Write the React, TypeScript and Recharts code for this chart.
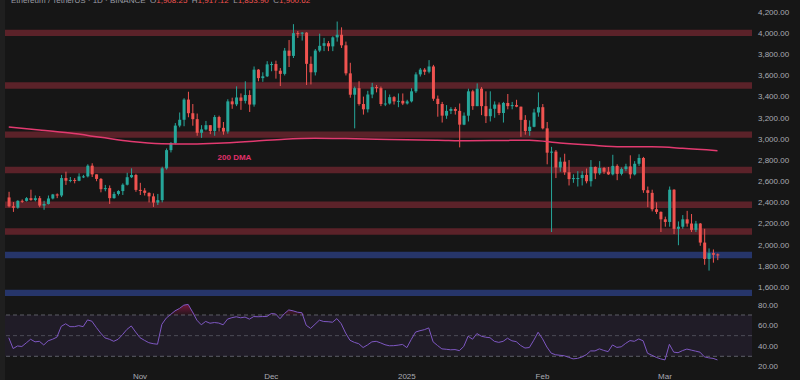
import {
  ComposedChart,
  Bar,
  Line,
  Area,
  XAxis,
  YAxis,
  ReferenceArea,
  ReferenceLine,
  ReferenceDot,
} from "recharts";

// days are counted from Nov 1 2024, first candle is Oct 2
const FIRST_DAY = -30;

const opens = [
  2447, 2363, 2350, 2415, 2414, 2440, 2422, 2440, 2370, 2385, 2437, 2475, 2465, 2630, 2605,
  2612, 2604, 2645, 2646, 2747, 2665, 2622, 2525, 2535, 2440, 2480, 2507, 2567, 2638, 2659,
  2518, 2512, 2490, 2457, 2398, 2421, 2722, 2894, 2962, 3126, 3181, 3372, 3243, 3187, 3058,
  3090, 3130, 3075, 3207, 3105, 3070, 3355, 3327, 3392, 3360, 3415, 3325, 3655, 3575, 3592,
  3705, 3708, 3645, 3615, 3835, 3785, 4000, 3995, 4005, 3710, 3630, 3835, 3880, 3905, 3875,
  3960, 3985, 3885, 3620, 3418, 3480, 3330, 3280, 3420, 3490, 3480, 3330, 3335, 3395, 3355, 3360,
  3335, 3355, 3450, 3610, 3655, 3635, 3685, 3380, 3330, 3220, 3265, 3283, 3265, 3135, 3220,
  3450, 3310, 3475, 3310, 3215, 3285, 3325, 3245, 3340, 3310, 3320, 3305, 3180, 3075, 3115, 3250,
  3300, 3100, 2870, 2880, 2730, 2785, 2685, 2620, 2630, 2630, 2660, 2600, 2735, 2675,
  2725, 2690, 2665, 2745, 2670, 2715, 2740, 2665, 2765, 2820, 2515, 2490, 2335, 2310,
  2240, 2215, 2520, 2150, 2170, 2240, 2200, 2140, 2200, 2020, 1865, 1920, 1908,
];

const highs = [
  2500, 2403, 2420, 2428, 2450, 2520, 2465, 2460, 2415, 2465, 2480, 2485, 2660, 2690, 2640,
  2630, 2675, 2660, 2760, 2770, 2665, 2630, 2565, 2560, 2500, 2515, 2580, 2680, 2722, 2670,
  2585, 2535, 2495, 2485, 2480, 2737, 2910, 2970, 3150, 3250, 3385, 3446, 3330, 3240, 3130,
  3170, 3130, 3225, 3220, 3160, 3375, 3390, 3497, 3430, 3545, 3460, 3685, 3660, 3630, 3735,
  3730, 3740, 3670, 3860, 3935, 4085, 4020, 4010, 4010, 3780, 3850, 3995, 3955, 3925, 3970,
  4110, 4055, 3920, 3720, 3495, 3545, 3400, 3455, 3530, 3510, 3495, 3460, 3420, 3405, 3430, 3430,
  3370, 3480, 3630, 3670, 3670, 3745, 3700, 3410, 3350, 3320, 3300, 3300, 3335, 3250, 3475,
  3465, 3525, 3490, 3450, 3450, 3355, 3345, 3350, 3425, 3350, 3370, 3305, 3225, 3175, 3285, 3440,
  3330, 3160, 2925, 2895, 2825, 2860, 2800, 2665, 2695, 2695, 2720, 2800, 2740, 2790,
  2735, 2735, 2850, 2760, 2730, 2765, 2845, 2790, 2855, 2830, 2550, 2520, 2400, 2315,
  2265, 2550, 2525, 2220, 2280, 2320, 2290, 2225, 2205, 2150, 1965, 1955, 1917,
];

const lows = [
  2353, 2310, 2340, 2395, 2408, 2415, 2410, 2355, 2330, 2380, 2428, 2440, 2450, 2565, 2590,
  2580, 2600, 2630, 2636, 2640, 2600, 2495, 2505, 2385, 2435, 2465, 2470, 2560, 2630, 2500,
  2470, 2465, 2400, 2357, 2375, 2400, 2710, 2872, 2950, 3110, 3120, 3205, 3125, 3030, 3010,
  3080, 3045, 3030, 3070, 3040, 3050, 3285, 3310, 3275, 3335, 3255, 3305, 3545, 3540, 3585,
  3640, 3570, 3500, 3600, 3680, 3765, 3955, 3930, 3510, 3515, 3600, 3820, 3830, 3830, 3830,
  3920, 3860, 3600, 3390, 3100, 3315, 3230, 3250, 3385, 3440, 3310, 3310, 3325, 3325, 3300, 3320,
  3325, 3345, 3435, 3590, 3605, 3620, 3360, 3210, 3155, 3190, 3235, 3230, 2920, 3130, 3165,
  3275, 3310, 3225, 3150, 3165, 3200, 3225, 3155, 3280, 3280, 3300, 3020, 3040, 3030, 3110, 3210,
  3090, 2760, 2120, 2630, 2690, 2660, 2560, 2585, 2550, 2560, 2580, 2550, 2620, 2660,
  2670, 2660, 2655, 2610, 2655, 2695, 2625, 2655, 2745, 2490, 2355, 2315, 2290, 2120,
  2170, 2170, 2100, 1995, 2150, 2170, 2120, 2120, 1990, 1810, 1755, 1830, 1854,
];

const closes = [
  2363, 2350, 2415, 2414, 2440, 2422, 2440, 2370, 2385, 2437, 2475, 2465, 2630, 2605, 2612,
  2604, 2645, 2646, 2747, 2665, 2622, 2525, 2535, 2440, 2480, 2507, 2567, 2638, 2659, 2518,
  2512, 2490, 2457, 2398, 2421, 2722, 2894, 2962, 3126, 3181, 3372, 3243, 3187, 3058, 3090,
  3130, 3075, 3207, 3105, 3070, 3355, 3327, 3392, 3360, 3415, 3325, 3655, 3575, 3592, 3705,
  3708, 3645, 3615, 3835, 3785, 4000, 3995, 4005, 3710, 3630, 3835, 3880, 3905, 3875, 3960,
  3985, 3885, 3620, 3418, 3480, 3330, 3280, 3420, 3490, 3480, 3330, 3335, 3395, 3355, 3360, 3335,
  3355, 3450, 3610, 3655, 3635, 3685, 3380, 3330, 3220, 3265, 3283, 3265, 3135, 3220, 3450,
  3310, 3475, 3310, 3215, 3285, 3325, 3245, 3340, 3310, 3320, 3305, 3180, 3075, 3115, 3250, 3300,
  3100, 2870, 2880, 2730, 2785, 2685, 2620, 2630, 2630, 2660, 2600, 2735, 2675, 2725,
  2690, 2665, 2745, 2670, 2715, 2740, 2665, 2765, 2820, 2515, 2490, 2335, 2310, 2240,
  2215, 2520, 2150, 2170, 2240, 2200, 2140, 2200, 2020, 1865, 1920, 1905, 1900,
];

const rsiValues = [
  48, 37.5, 40, 39.5, 43, 46.5, 44, 44.5, 41, 45, 46.5, 48.5, 59, 61.5, 58.7,
  58.7, 59.7, 58.7, 65.2, 64, 58, 52.5, 47.8, 46.5, 44.5, 46.5, 51, 56, 59.4, 53.5,
  48, 45.5, 43.2, 42.2, 41.7, 61, 67, 70.5, 74, 76.3, 79.5, 80.3, 73, 65, 60.5,
  63.8, 62, 62.7, 62.2, 60.5, 66, 67.4, 68.3, 67.3, 68, 66, 68.5, 68.3, 68.5, 68.5,
  71.4, 71, 66.4, 71.3, 74.9, 74, 72.7, 72.2, 60, 57, 61, 65, 63.7, 63.5, 63,
  66.5, 61.5, 52.5, 45.5, 43.5, 42.2, 38.5, 41, 44, 44.5, 43, 41.2, 40.2, 40.3, 40.8, 41.5,
  38.4, 46.3, 53.5, 54.8, 55.8, 57.5, 44, 40.5, 37.2, 36.8, 36.3, 36.5, 35.5, 39.5, 49.5,
  46.5, 52, 49.5, 48.5, 48, 44.5, 43.5, 44.5, 47.5, 45, 44.2, 40.5, 38, 38.5, 45.5, 53.3,
  47, 39, 33, 31.5, 31, 30.5, 29, 27.5, 28, 29.3, 31.5, 35.2, 35.2, 37.2,
  35.7, 34.5, 41, 38.6, 39.2, 42.5, 45.2, 44.5, 46.8, 45, 33, 31, 29, 27.5,
  26.5, 41.6, 34, 33.5, 35.5, 37, 36, 35, 34, 29.5, 28.5, 28, 26.5,
];

// 200 day moving average, read about once a week
const dmaDays = [-30, -23, -16, -9, -2, 5, 12, 19, 26, 33, 40, 47, 54, 61, 68, 75, 82, 89, 96, 103, 110, 117, 124, 132];
const dmaValues = [3112, 3085, 3055, 3015, 2975, 2955, 2952, 2962, 2978, 2998, 3006, 3003, 2998, 2992, 2988, 2983, 2985, 2988, 2962, 2942, 2926, 2925, 2912, 2889];

const redZones = [4002, 3505, 3040, 2706, 2378, 2125];
const blueZones = [1903, 1545];

const priceTicks = [1600, 1800, 2000, 2200, 2400, 2600, 2800, 3000, 3200, 3400, 3600, 3800, 4000, 4200];
const rsiTicks = [20, 40, 60, 80];
const monthTicks = [0, 30, 61, 92, 120];
const monthLabels = ["Nov", "Dec", "2025", "Feb", "Mar"];

const UP = "#26a69a";
const DOWN = "#ef5350";
const BG = "#161616";
const TEXT = "#a9abb3";
const FONT = "'Liberation Sans', Arial, sans-serif";

const X_DOMAIN = [-30.86, 139.89];

const rows = closes.map((close, i) => {
  const t = FIRST_DAY + i;
  const k = dmaDays.indexOf(t);
  return {
    t,
    open: opens[i],
    high: highs[i],
    low: lows[i],
    close,
    rsi: rsiValues[i],
    dma: k >= 0 ? dmaValues[k] : null,
  };
});

function Candle(props: any) {
  const { x, y, width, height, payload } = props;
  if (!payload || x == null) return null;
  const { open, close, high, low } = payload;
  const top = Math.min(y, y + height);
  const bottom = Math.max(y, y + height);
  const span = high - low || 1;
  const toY = (v: number) => top + ((high - v) / span) * (bottom - top);
  const color = close >= open ? UP : DOWN;
  const bodyTop = toY(Math.max(open, close));
  const bodyH = Math.max(1, toY(Math.min(open, close)) - bodyTop);
  const cx = x + width / 2;
  return (
    <g>
      <line x1={cx} x2={cx} y1={top} y2={bottom} stroke={color} strokeWidth={1} />
      <rect x={x} y={bodyTop} width={width} height={bodyH} fill={color} />
    </g>
  );
}

const fmtPrice = (v: number) =>
  v.toLocaleString("en-US", { minimumFractionDigits: 2, maximumFractionDigits: 2 });

export default function App() {
  return (
    <div
      style={{
        position: "absolute",
        left: 0,
        top: 0,
        width: 800,
        height: 380,
        background: BG,
        overflow: "hidden",
        fontFamily: FONT,
      }}
    >
      <div style={{ position: "absolute", left: 0, top: 0, width: 5, height: 380, background: "#1f1f1f" }} />

      {/* price pane */}
      <div style={{ position: "absolute", left: 0, top: 0 }}>
        <ComposedChart width={800} height={298} data={rows} margin={{ top: 0, right: 0, bottom: 0, left: 5 }}>
          <XAxis type="number" dataKey="t" domain={X_DOMAIN} allowDataOverflow hide />
          <YAxis
            orientation="right"
            width={48}
            domain={[1496, 4313.5]}
            allowDataOverflow
            ticks={priceTicks}
            interval={0}
            axisLine={false}
            tickLine={false}
            tickSize={4}
            tick={{ fill: TEXT, fontSize: 8, fontFamily: FONT }}
            tickFormatter={fmtPrice}
          />

          {redZones.map((p) => (
            <ReferenceArea key={p} y1={p - 30} y2={p + 30} fill="#b03040" fillOpacity={0.45} strokeWidth={0} />
          ))}
          {blueZones.map((p) => (
            <ReferenceArea key={p} y1={p - 30} y2={p + 30} fill="#3a5ad0" fillOpacity={0.45} strokeWidth={0} />
          ))}

          <Line
            dataKey="dma"
            type="monotone"
            stroke="#e23a70"
            strokeWidth={1.5}
            dot={false}
            connectNulls
            isAnimationActive={false}
          />

          <Bar
            dataKey={(r: any) => [r.low, r.high]}
            barSize={3}
            shape={Candle}
            isAnimationActive={false}
          />

          <ReferenceDot
            x={21.6}
            y={2829}
            r={0}
            fill="none"
            stroke="none"
            label={{ value: "200 DMA", position: "center", fill: "#e0306a", fontSize: 8, fontWeight: 700, fontFamily: FONT }}
          />
        </ComposedChart>
      </div>

      {/* RSI pane + time axis */}
      <div style={{ position: "absolute", left: 0, top: 298 }}>
        <ComposedChart width={800} height={82} data={rows} margin={{ top: 0, right: 0, bottom: 0, left: 5 }}>
          <defs>
            <linearGradient id="obFill" x1="0" y1="0" x2="0" y2="1">
              <stop offset="0%" stopColor="#c2185b" stopOpacity={0.9} />
              <stop offset="100%" stopColor="#c2185b" stopOpacity={0.15} />
            </linearGradient>
          </defs>
          <XAxis
            type="number"
            dataKey="t"
            domain={X_DOMAIN}
            allowDataOverflow
            ticks={monthTicks}
            interval={0}
            height={12}
            axisLine={false}
            tickLine={false}
            tickSize={0}
            tickMargin={5}
            tick={{ fill: TEXT, fontSize: 8, fontFamily: FONT }}
            tickFormatter={(v: number) => monthLabels[monthTicks.indexOf(v)] ?? ""}
          />
          <YAxis
            orientation="right"
            width={48}
            domain={[18.67, 86.46]}
            allowDataOverflow
            ticks={rsiTicks}
            interval={0}
            axisLine={false}
            tickLine={false}
            tickSize={4}
            tick={{ fill: TEXT, fontSize: 8, fontFamily: FONT }}
            tickFormatter={(v: number) => v.toFixed(2)}
          />

          <ReferenceArea y1={30} y2={70} fill="#7e57c2" fillOpacity={0.1} strokeWidth={0} />
          <ReferenceLine y={70} stroke="#787b86" strokeDasharray="4 3" strokeOpacity={0.7} />
          <ReferenceLine y={50} stroke="#787b86" strokeDasharray="4 3" strokeOpacity={0.5} />
          <ReferenceLine y={30} stroke="#787b86" strokeDasharray="4 3" strokeOpacity={0.7} />

          <Area
            dataKey={(r: any) => [70, Math.max(70, r.rsi)]}
            type="linear"
            stroke="none"
            fill="url(#obFill)"
            isAnimationActive={false}
          />
          <Line
            dataKey="rsi"
            type="linear"
            stroke="#7e57c2"
            strokeWidth={1}
            dot={false}
            isAnimationActive={false}
          />
        </ComposedChart>
      </div>

      {/* the time-axis strip hides the lower half of the 20.00 label */}
      <div style={{ position: "absolute", left: 752, top: 369, width: 48, height: 11, background: BG }} />

      {/* header, only its lower half shows at the top edge */}
      <div
        style={{
          position: "absolute",
          left: 11,
          top: -3,
          fontSize: 8,
          lineHeight: "8px",
          color: "#9a9ca4",
          whiteSpace: "nowrap",
        }}
      >
        Ethereum / TetherUS · 1D · BINANCE&nbsp; O<span style={{ color: DOWN }}>1,908.25</span>&nbsp; H
        <span style={{ color: DOWN }}>1,917.12</span>&nbsp; L<span style={{ color: DOWN }}>1,853.90</span>&nbsp; C
        <span style={{ color: DOWN }}>1,900.62</span>
      </div>
    </div>
  );
}
